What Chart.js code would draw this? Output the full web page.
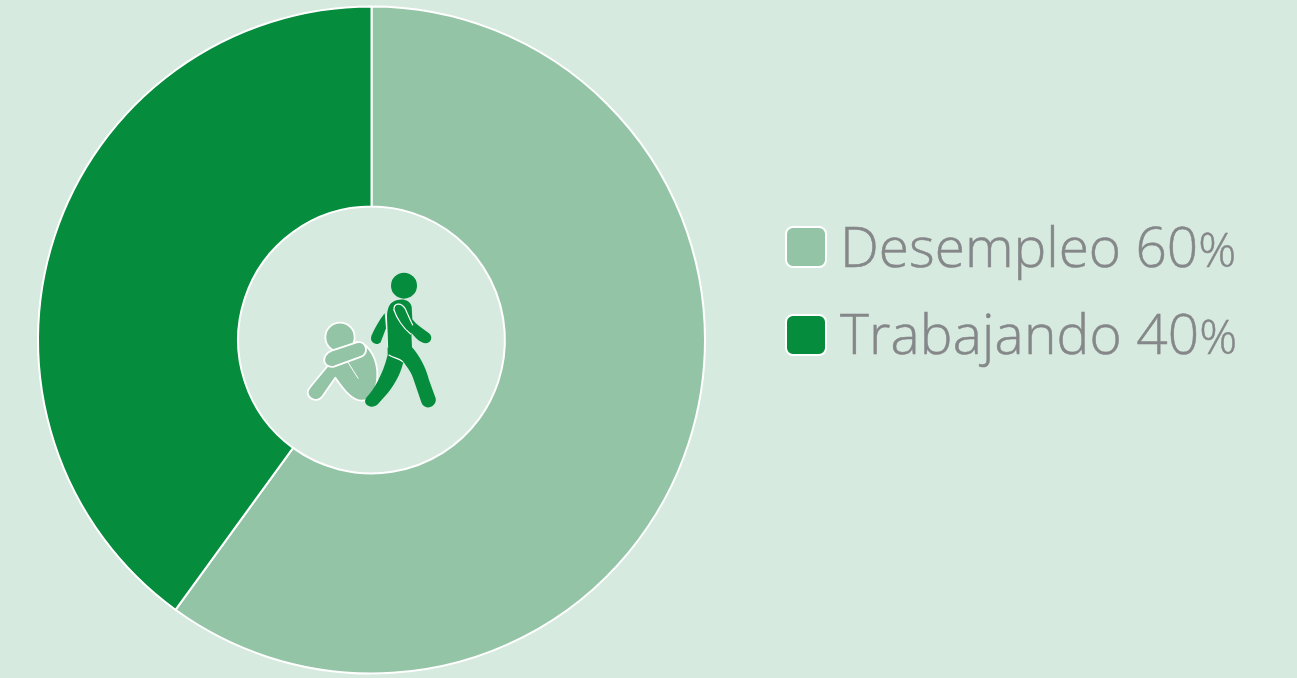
<!DOCTYPE html>
<html><head><meta charset="utf-8">
<script src="https://cdn.jsdelivr.net/npm/chart.js@4/dist/chart.umd.min.js"></script>
<style>
html,body{margin:0;padding:0;background:#d6eadf;overflow:hidden}
#wrap{position:relative;width:1297px;height:678px}
canvas{position:absolute;left:0;top:0}
.lg{position:absolute;left:785px;font-family:"Open Sans";font-weight:300;font-kerning:none;color:#858789;-webkit-text-stroke:0.5px #858789;font-size:55px;line-height:60px;white-space:nowrap}
.sw{position:absolute;left:0;top:9px;width:38px;height:38px;border:2px solid #fff;border-radius:8px;box-sizing:content-box}
.tx{position:absolute;top:0;white-space:nowrap}
.tx span{font-size:47px}
svg{position:absolute;left:290px;top:260px}
</style></head><body>
<div id="wrap"><canvas id="c" width="1297" height="678"></canvas>
<svg width="160" height="160" viewBox="0 0 480 480">
 <g fill="#93c4a6" stroke="#fff" stroke-width="5.5" stroke-linejoin="round">
  <circle cx="150" cy="232" r="44"/>
  <path d="M200 245C242 252 264 305 262 350C260 392 242 422 215 422C188 422 165 395 136 353L98 408C84 428 56 420 53 398C53 388 60 382 68 372L125 303Z"/>
  <path d="M125 272L200 247C230 240 238 282 214 290L132 320C96 326 92 284 125 272Z"/>
  <path d="M172 304L205 356" fill="none" stroke-width="3"/>
 </g>
 <g fill="#058c3d">
  <circle cx="342" cy="77" r="39"/>
  <path d="M312 124C330 114 360 116 365 140L367 178C380 195 397 205 417 220C434 235 417 258 396 247C382 240 372 228 364 218L366 262C387 285 407 320 417 360L437 415C442 442 402 454 394 427L372 362C365 337 352 322 340 305C335 332 318 368 294 398L264 432C245 452 213 432 230 412C252 388 278 345 293 285L291 165C293 145 298 130 312 124Z"/>
  <path d="M284 160L288 205L272 247C260 260 236 247 245 226C254 205 268 180 284 160Z"/>
 </g>
 <g fill="none" stroke="#fff" stroke-width="3.5" stroke-linecap="round">
  <path d="M312 150C310 130 332 125 345 145C352 160 358 175 368 195"/>
  <path d="M312 150C320 175 340 205 362 222"/>
  <path d="M297 285C310 295 325 293 338 305"/>
  <path d="M289 165L293 262" stroke-width="2.5"/>
 </g>
</svg>
</div>
<script>
const categories=["Desempleo","Trabajando"];
const values=[60,40];
const sliceColors=["#93c4a6","#058c3d"];
const wrap=document.getElementById('wrap');
new Chart(document.getElementById('c'),{
 type:'doughnut',
 data:{labels:categories,datasets:[{data:values,backgroundColor:sliceColors,borderColor:'#fff',borderWidth:2,borderAlign:'center'}]},
 options:{responsive:false,animation:false,cutout:'40%',
  layout:{padding:{left:36.5,right:590.5,top:5.5,bottom:3.5}},
  plugins:{legend:{display:false},tooltip:{enabled:false}}}
});
const tops=[216,303],txLeft=[55,55],spacing=[0,0.15];
categories.forEach((c,i)=>{
 const d=document.createElement('div');d.className='lg';d.style.top=tops[i]+'px';
 const swTop=i==0?10:11;
 d.innerHTML=`<div class="sw" style="top:${swTop}px;background:${sliceColors[i]}"></div><div class="tx" style="left:${txLeft[i]}px;letter-spacing:${spacing[i]}px">${c} ${values[i]}<span>%</span></div>`;
 wrap.appendChild(d);
});
</script>
</body></html>
